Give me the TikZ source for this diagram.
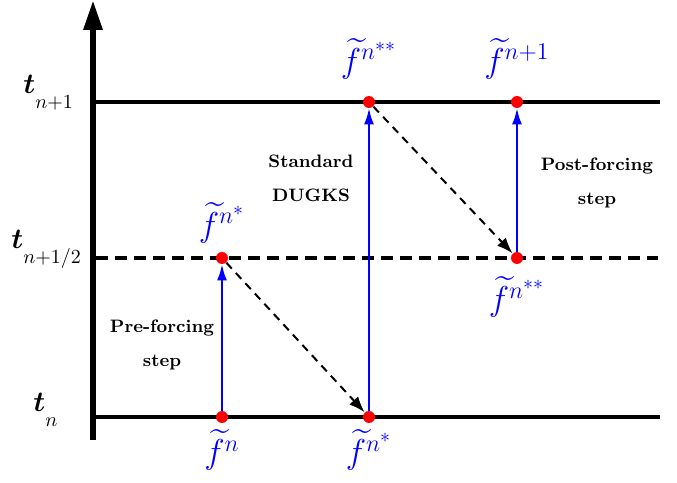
\documentclass[tikz,border=0pt]{standalone}
\usepackage{amsmath,amssymb,bm}
\usetikzlibrary{arrows.meta,positioning,calc}

\definecolor{flblue}{HTML}{0000FF}
\definecolor{dotred}{HTML}{FF0000}

\begin{document}
\begin{tikzpicture}[x=0.5pt,y=0.5pt,
  dot/.style={circle,fill=dotred,inner sep=0pt,minimum size=6pt},
  flab/.style={text=flblue,font=\LARGE,inner sep=1pt},
  tlab/.style={anchor=base west,inner sep=0pt,font=\Large},
  steplab/.style={font=\small\bfseries,align=center},
  timeline/.style={line width=2pt},
  forcearrow/.style={flblue,line width=1pt,-{Latex[length=8pt,width=5pt]}},
  streamarrow/.style={line width=1pt,dash pattern=on 4pt off 3pt,-{Latex[length=8pt,width=6pt]}}]
\useasboundingbox (0,0) rectangle (677,483);

% Time axis
\coordinate (axb) at (93,43);
\coordinate (axt) at (93,483);
\draw[line width=3pt,-{Triangle[length=15pt,width=9pt]}] (axb) -- (axt);

% Time levels
\coordinate (l0) at (96,66);   \coordinate (r0) at (660,66);
\coordinate (lh) at (96,225);  \coordinate (rh) at (658,225);
\coordinate (l1) at (96,381);  \coordinate (r1) at (660,381);
\draw[timeline] (l0) -- (r0);
\draw[timeline,dash pattern=on 6pt off 3.5pt] (lh) -- (rh);
\draw[timeline] (l1) -- (r1);

\node[tlab] (tn)  at (33,71)  {$\boldsymbol{t}_{\lower5pt\hbox{$\scriptstyle n$}}$};
\node[tlab] (th)  at (11,234) {$\boldsymbol{t}_{\lower5pt\hbox{$\scriptstyle n+1/2$}}$};
\node[tlab] (tn1) at (23,389) {$\boldsymbol{t}_{\lower5pt\hbox{$\scriptstyle n+1$}}$};

% Distribution functions
\node[dot] (fn)    at (222,66)  {};
\node[dot] (fs)    at (222,225) {};
\node[dot] (fsb)   at (369,66)  {};
\node[dot] (fss)   at (369,381) {};
\node[dot] (fssh)  at (517,225) {};
\node[dot] (fnew)  at (517,381) {};

% Steps
\draw[forcearrow] (fn) -- (fs);
\draw[streamarrow] (fs) -- (fsb);
\draw[forcearrow] (fsb) -- (fss);
\draw[streamarrow] (fss) -- (fssh);
\draw[forcearrow] (fssh) -- (fnew);

% Labels
\node[flab,below=2pt of fn]   {$\widetilde{f}^{n}$};
\node[flab,below=2pt of fsb]  {$\widetilde{f}^{n^*}$};
\node[flab,above=3pt of fs]   {$\widetilde{f}^{n^*}$};
\node[flab,above=7pt of fss]  {$\widetilde{f}^{n^{**}}$};
\node[flab,above=7pt of fnew] {$\widetilde{f}^{n+1}$};
\node[flab,below=5pt of fssh] {$\widetilde{f}^{n^{**}}$};

\node[steplab] (pre)  at (162,138) {Pre-forcing\\[6pt]step};
\node[steplab] (std)  at (311,305) {Standard\\[6pt]DUGKS};
\node[steplab] (post) at (597,300) {Post-forcing\\[6pt]step};
\end{tikzpicture}
\end{document}
